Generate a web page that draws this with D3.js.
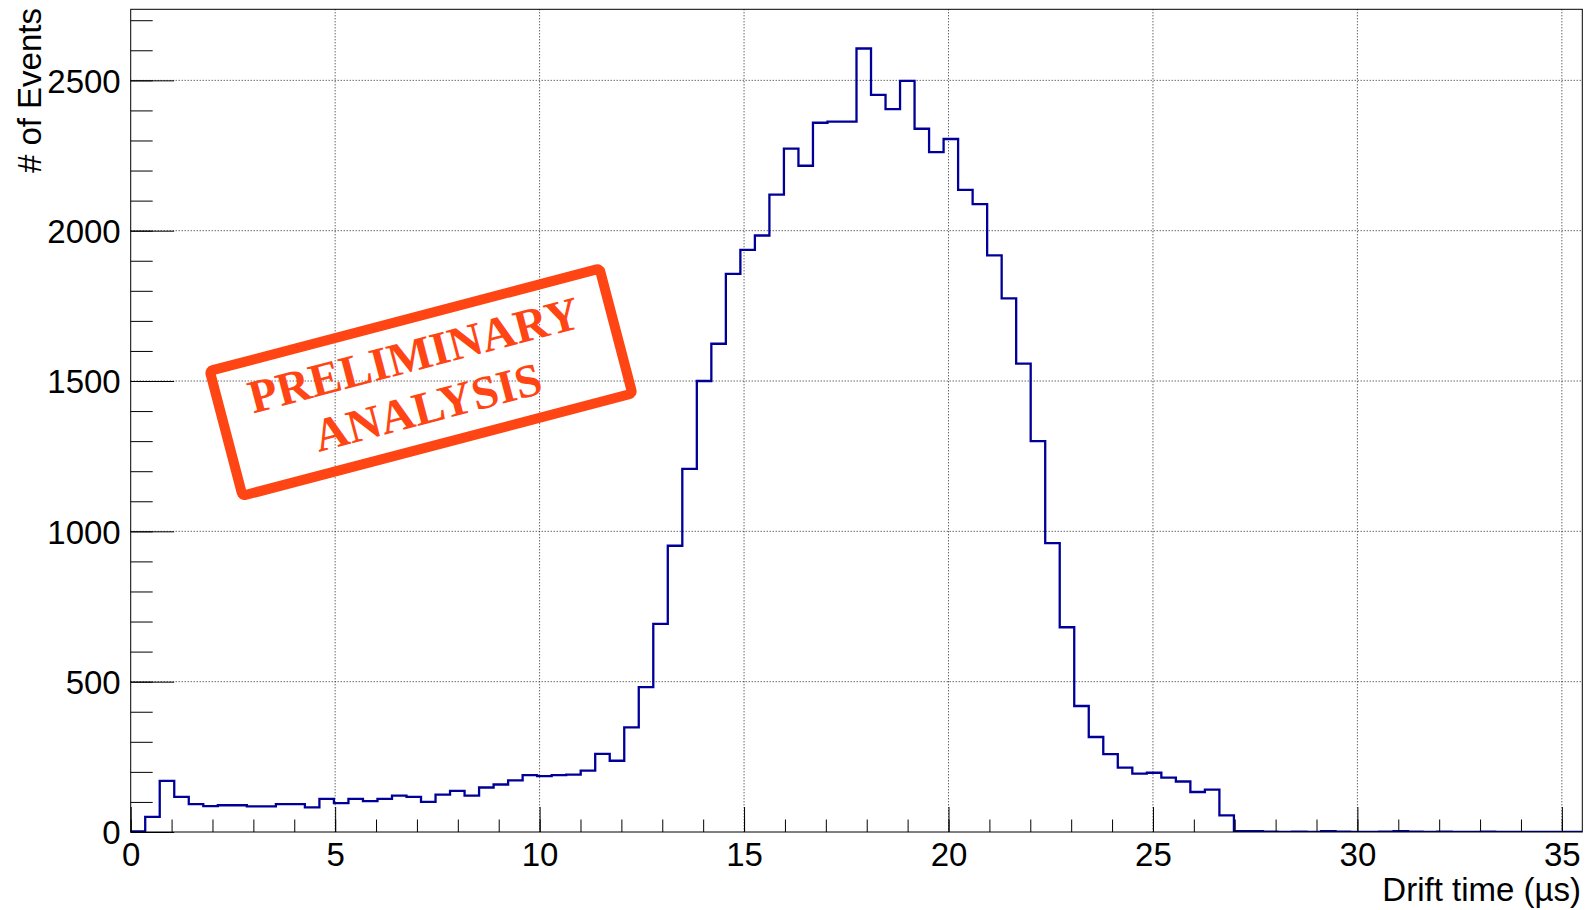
<!DOCTYPE html>
<html>
<head>
<meta charset="utf-8">
<script src="https://cdn.jsdelivr.net/npm/d3@7"></script>
<style>
  html, body { margin: 0; padding: 0; background: #fff; }
  svg { display: block; }
</style>
</head>
<body>
<svg id="chart" width="1585" height="910"></svg>
<script>
// Drift-time histogram: 100 equal bins between 0 and 35.5 µs
const xRange = [0, 35.5];
const counts = [
     2,   50,  170,  117,   93,   86,   89,   89,   85,   85,
    93,   93,   82,  110,   96,  110,  103,  110,  121,  117,
   100,  124,  137,  121,  148,  158,  172,  189,  186,  189,
   191,  204,  260,  237,  348,  482,  692,  952, 1208, 1500,
  1624, 1856, 1936, 1984, 2120, 2273, 2216, 2359, 2363, 2363,
  2606, 2452, 2404, 2498, 2339, 2261, 2305, 2136, 2088, 1918,
  1775, 1558, 1300,  961,  681,  419,  316,  259,  214,  194,
   197,  181,  168,  133,  141,   55,    3,    3,    1,    0,
     1,    0,    3,    1,    0,    0,    1,    3,    1,    0,
     1,    0,    0,    1,    0,    0,    0,    0,    0,    0
];

// Axis ticks
const xMajorTicks = [0, 5, 10, 15, 20, 25, 30, 35];
const xMinorTicks = d3.range(0, 36, 1);
const yMajorTicks = [0, 500, 1000, 1500, 2000, 2500];
const yMinorTicks = d3.range(0, 2701, 100);

// Texts
const xTitle = "Drift time (\u00B5s)";
const yTitle = "# of Events";
const stampLines = ["PRELIMINARY", "ANALYSIS"];

// ---------------------------------------------------------------
const frame = { left: 130.7, right: 1582.3, top: 9.3, bottom: 832 };
const fontSans = "'Liberation Sans', Arial, Helvetica, sans-serif";
const fontSize = 33;

const svg = d3.select("#chart");

const x = d3.scaleLinear().domain(xRange).range([frame.left, frame.right]);
const y = d3.scaleLinear().domain([0, 1.05 * d3.max(counts)]).range([frame.bottom, frame.top]);

// Dotted grid at the major ticks
const grid = svg.append("g").attr("class", "grid")
  .attr("stroke", "#222").attr("stroke-width", 1).attr("stroke-dasharray", "1,2");
grid.selectAll("line.gx").data(xMajorTicks.filter(v => v > xRange[0])).join("line")
  .attr("class", "gx")
  .attr("x1", d => x(d)).attr("x2", d => x(d))
  .attr("y1", frame.top).attr("y2", frame.bottom);
grid.selectAll("line.gy").data(yMajorTicks.filter(v => v > 0)).join("line")
  .attr("class", "gy")
  .attr("x1", frame.left).attr("x2", frame.right)
  .attr("y1", d => y(d)).attr("y2", d => y(d));

// Histogram outline (step line)
const nBins = counts.length;
const binW = (xRange[1] - xRange[0]) / nBins;
const steps = [[xRange[0], 0]];
counts.forEach((c, i) => {
  steps.push([xRange[0] + i * binW, c]);
  steps.push([xRange[0] + (i + 1) * binW, c]);
});
steps.push([xRange[1], 0]);

svg.append("defs").append("clipPath").attr("id", "frameClip")
  .append("rect")
  .attr("x", frame.left).attr("y", frame.top)
  .attr("width", frame.right - frame.left).attr("height", frame.bottom - frame.top);

svg.append("path")
  .datum(steps)
  .attr("clip-path", "url(#frameClip)")
  .attr("fill", "none")
  .attr("stroke", "#000099")
  .attr("stroke-width", 2.3)
  .attr("stroke-linejoin", "miter")
  .attr("d", d3.line().x(d => x(d[0])).y(d => y(d[1])));

// Axes: ticks pointing into the frame
function styleAxis(g) {
  g.select(".domain").remove();
  g.selectAll(".tick line").attr("stroke", "#000").attr("stroke-width", 1);
  g.selectAll(".tick text")
    .attr("fill", "#000")
    .style("font-family", fontSans)
    .style("font-size", fontSize + "px");
}

svg.append("g")
  .attr("transform", `translate(0,${frame.bottom})`)
  .call(d3.axisBottom(x).tickValues(xMinorTicks).tickSizeInner(-12.5).tickSizeOuter(0).tickFormat(""))
  .call(styleAxis);
svg.append("g")
  .attr("transform", `translate(0,${frame.bottom})`)
  .call(d3.axisBottom(x).tickValues(xMajorTicks).tickSizeInner(-25).tickSizeOuter(0)
        .tickPadding(10.6).tickFormat(d3.format("d")))
  .call(styleAxis);

svg.append("g")
  .attr("transform", `translate(${frame.left},0)`)
  .call(d3.axisLeft(y).tickValues(yMinorTicks).tickSizeInner(-22).tickSizeOuter(0).tickFormat(""))
  .call(styleAxis);
svg.append("g")
  .attr("transform", `translate(${frame.left},0)`)
  .call(d3.axisLeft(y).tickValues(yMajorTicks).tickSizeInner(-43.5).tickSizeOuter(0)
        .tickPadding(10).tickFormat(d3.format("d")))
  .call(styleAxis)
  .call(g => g.selectAll(".tick text").attr("dy", "0.36em"));

// Frame
svg.append("rect")
  .attr("x", frame.left).attr("y", frame.top)
  .attr("width", frame.right - frame.left).attr("height", frame.bottom - frame.top)
  .attr("fill", "none").attr("stroke", "#000").attr("stroke-width", 1);

// Axis titles
svg.append("text")
  .attr("x", 1581).attr("y", 901)
  .attr("text-anchor", "end")
  .style("font-family", fontSans).style("font-size", fontSize + "px")
  .text(xTitle);

svg.append("text")
  .attr("transform", "translate(41,8) rotate(-90)")
  .attr("text-anchor", "end")
  .style("font-family", fontSans).style("font-size", fontSize + "px")
  .text(yTitle);

// "Preliminary analysis" stamp
const stampColor = "#ff4513";
const stamp = svg.append("g")
  .attr("transform", `translate(${x(7.1)},${y(1496)}) rotate(-14.7)`);
stamp.append("rect")
  .attr("x", -201.5).attr("y", -64.5)
  .attr("width", 403).attr("height", 129)
  .attr("rx", 3)
  .attr("fill", "none")
  .attr("stroke", stampColor)
  .attr("stroke-width", 10);
stamp.selectAll("text").data(stampLines).join("text")
  .attr("x", 0)
  .attr("y", (d, i) => -12.4 + i * 54)
  .attr("text-anchor", "middle")
  .attr("fill", stampColor)
  .style("font-family", "'Liberation Serif', 'Times New Roman', serif")
  .style("font-weight", "bold")
  .style("font-size", "47px")
  .text(d => d);
</script>
</body>
</html>
